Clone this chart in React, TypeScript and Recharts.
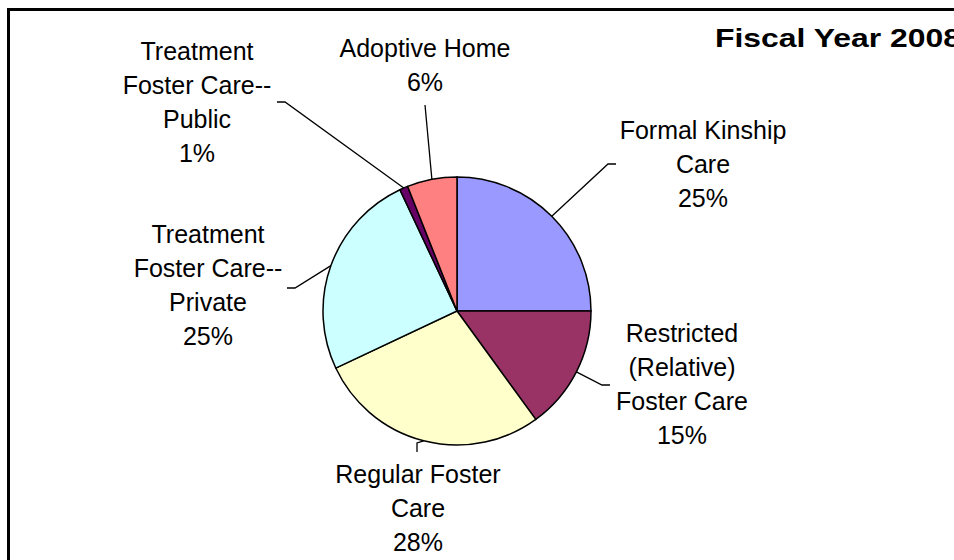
import React from 'react';
import { PieChart, Pie, Cell } from 'recharts';

// Placement types by share of children, FY 2008
const categories = [
  'Formal Kinship Care',
  'Restricted (Relative) Foster Care',
  'Regular Foster Care',
  'Treatment Foster Care--Private',
  'Treatment Foster Care--Public',
  'Adoptive Home',
];
const shares = [25, 15, 28, 25, 1, 6];
const sliceColors = ['#9999FF', '#993366', '#FFFFCC', '#CCFFFF', '#660066', '#FF8080'];

// how each label wraps, like the original
const labelLines = [
  ['Formal Kinship', 'Care'],
  ['Restricted', '(Relative)', 'Foster Care'],
  ['Regular Foster', 'Care'],
  ['Treatment', 'Foster Care--', 'Private'],
  ['Treatment', 'Foster Care--', 'Public'],
  ['Adoptive Home'],
];

// label text / leader elbow offsets from the pie centre
const labelLayout = [
  { tx: 246, ty: -172, ex: 151, ey: -147, kx: 159, ky: -147 },
  { tx: 225, ty: 31, ex: 145, ey: 74, kx: 153, ky: 74 },
  { tx: -39, ty: 172, ex: -40, ey: 132, kx: -40, ky: 141 },
  { tx: -249, ty: -68, ex: -162, ey: -23, kx: -170, ky: -23 },
  { tx: -260, ty: -251, ex: -172, ey: -209, kx: -180, ky: -209 },
  { tx: -32, ty: -254, ex: -32, ey: -206, kx: -32, ky: -206 },
];

const data = categories.map((name, i) => ({ name, value: shares[i] }));

const FONT = '"Liberation Sans", Arial, sans-serif';
const RADIAN = Math.PI / 180;

const renderLabel = (props: any) => {
  const { cx, cy, midAngle, outerRadius, index } = props;
  const lay = labelLayout[index];
  const lines = [...labelLines[index], `${shares[index]}%`];
  const sx = cx + outerRadius * Math.cos(-midAngle * RADIAN);
  const sy = cy + outerRadius * Math.sin(-midAngle * RADIAN);
  return (
    <g key={`lbl-${index}`}>
      <polyline
        points={`${sx},${sy} ${cx + lay.ex},${cy + lay.ey} ${cx + lay.kx},${cy + lay.ky}`}
        fill="none"
        stroke="#000"
        strokeWidth={1.3}
      />
      <text
        x={cx + lay.tx}
        y={cy + lay.ty}
        textAnchor="middle"
        fontFamily={FONT}
        fontSize={25}
        fill="#000"
      >
        {lines.map((l, i) => (
          <tspan key={i} x={cx + lay.tx} dy={i === 0 ? 0 : 34}>
            {l}
          </tspan>
        ))}
      </text>
    </g>
  );
};

export default function App() {
  return (
    <div style={{ position: 'absolute', left: 0, top: 0, width: 954, height: 560, overflow: 'hidden', background: '#fff' }}>
      <div
        style={{
          position: 'absolute',
          left: 7,
          top: 8,
          width: 1000,
          height: 600,
          border: '3px solid #000',
          boxSizing: 'border-box',
        }}
      />
      <div style={{ position: 'absolute', left: 0, top: 0 }}>
        <PieChart width={954} height={560} margin={{ top: 0, right: 0, bottom: 0, left: 0 }}>
          <Pie
            data={data}
            dataKey="value"
            nameKey="name"
            cx={457}
            cy={311}
            outerRadius={134}
            startAngle={90}
            endAngle={-270}
            stroke="#000"
            strokeWidth={1.5}
            label={renderLabel}
            labelLine={false}
            isAnimationActive={false}
          >
            {data.map((entry, i) => (
              <Cell key={`cell-${i}`} fill={sliceColors[i]} />
            ))}
          </Pie>
        </PieChart>
      </div>
      <svg width={954} height={560} style={{ position: 'absolute', left: 0, top: 0, pointerEvents: 'none' }}>
        <text
          x={715}
          y={47}
          fontFamily={FONT}
          fontSize={26}
          fontWeight="bold"
          textLength={246}
          lengthAdjust="spacingAndGlyphs"
          fill="#000"
        >
          Fiscal Year 2008
        </text>
      </svg>
    </div>
  );
}
